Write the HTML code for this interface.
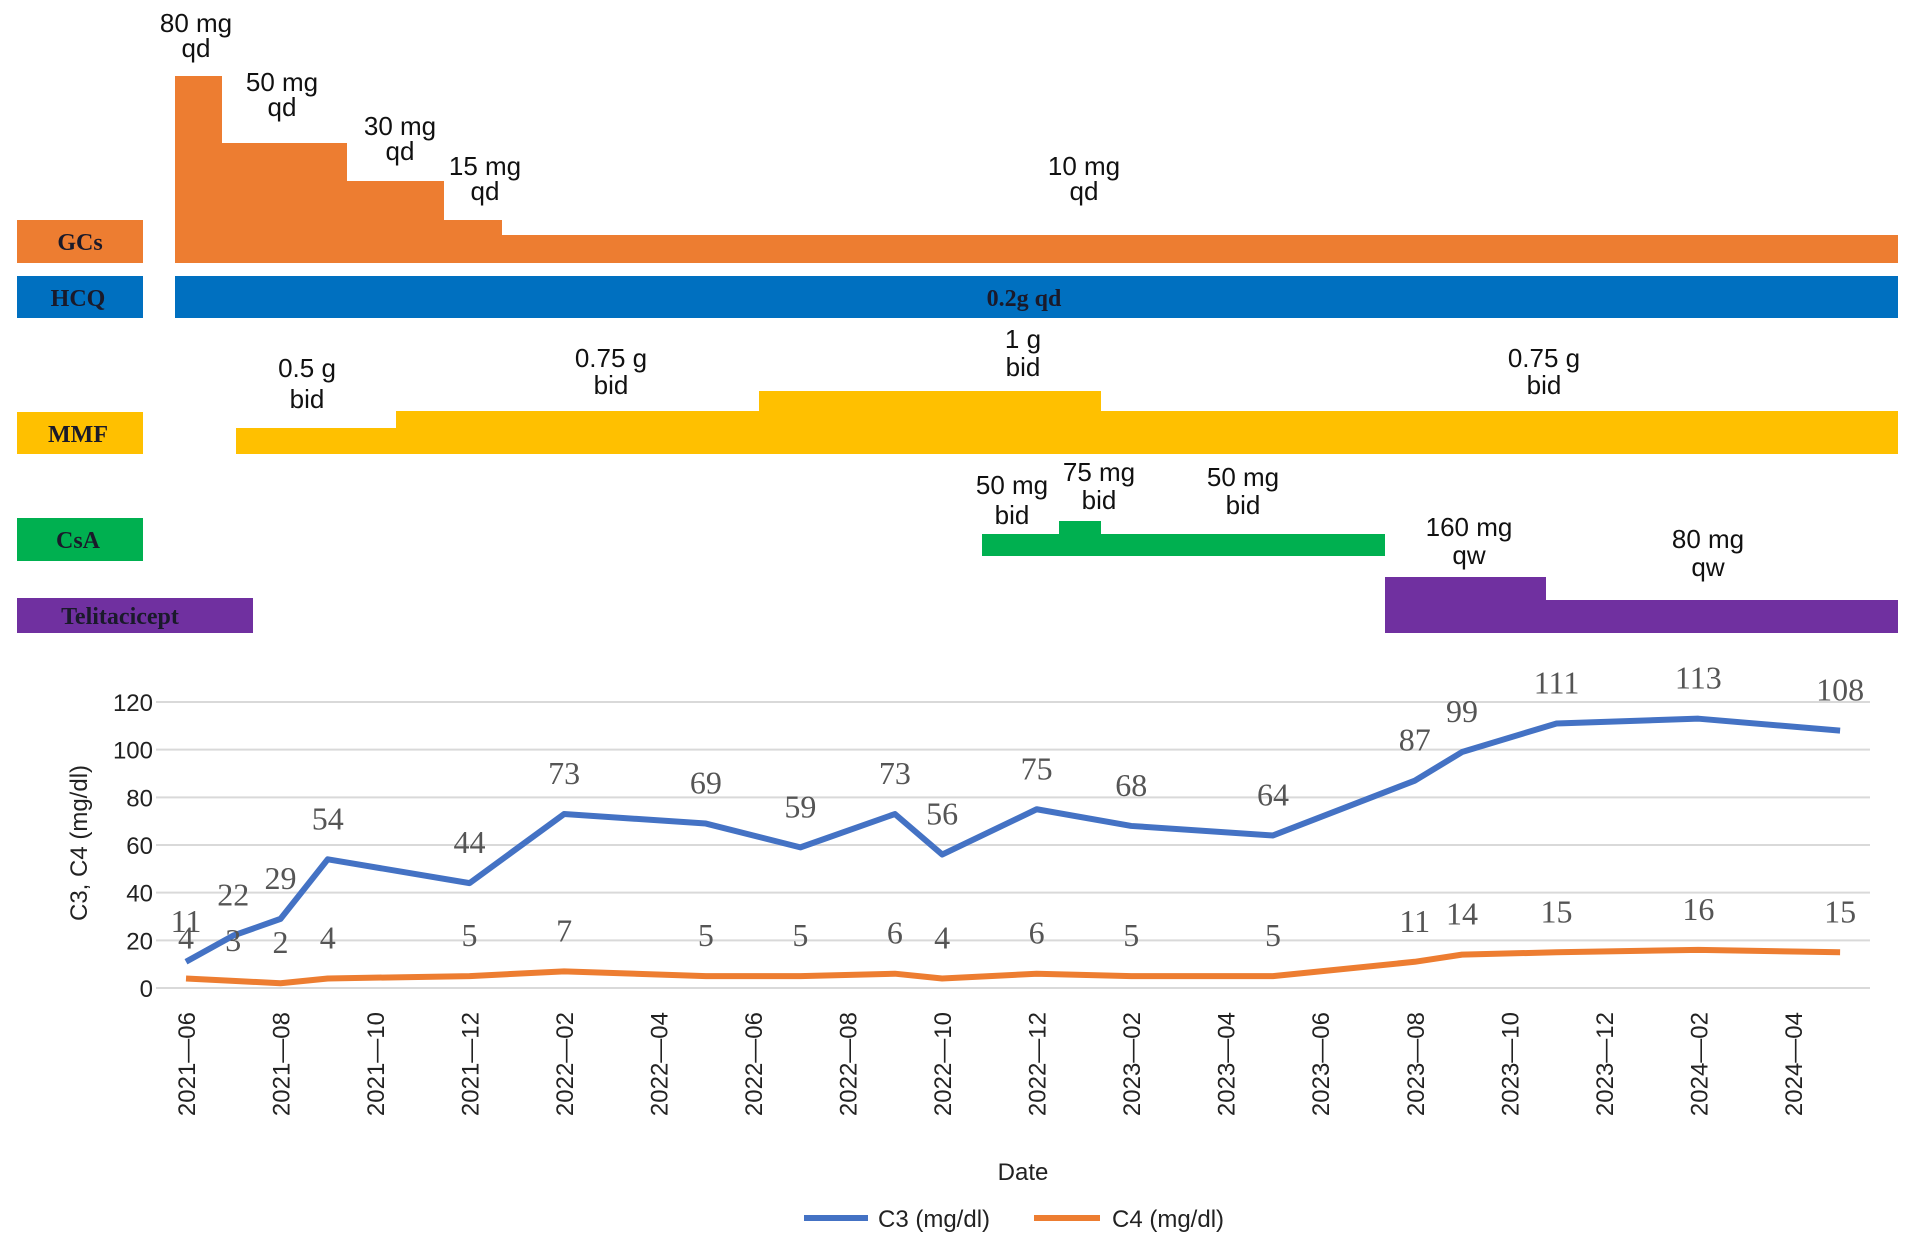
<!DOCTYPE html>
<html><head><meta charset="utf-8"><style>
html,body{margin:0;padding:0;background:#fff;}
svg{display:block;}
.dl{font-family:"Liberation Sans",sans-serif;font-size:26px;fill:#111;text-anchor:middle;}
.bx{font-family:"Liberation Serif",serif;font-size:24px;font-weight:bold;fill:#1a1a2a;text-anchor:middle;}
.tk{font-family:"Liberation Sans",sans-serif;font-size:24px;fill:#222;}
.vl{font-family:"Liberation Serif",serif;font-size:32px;fill:#555;text-anchor:middle;}
</style></head><body>
<svg id="chart" width="1913" height="1244" viewBox="0 0 1913 1244" xmlns="http://www.w3.org/2000/svg">
<g>
<rect x="17" y="220" width="126" height="43" fill="#ED7D31"/>
<text class="bx" x="80" y="250">GCs</text>
<rect x="17" y="276" width="126" height="42" fill="#0070C0"/>
<text class="bx" x="78" y="306">HCQ</text>
<rect x="17" y="412" width="126" height="42" fill="#FFC000"/>
<text class="bx" x="78" y="442">MMF</text>
<rect x="17" y="518" width="126" height="43" fill="#00B050"/>
<text class="bx" x="78" y="548">CsA</text>
<rect x="17" y="598" width="236" height="35" fill="#7030A0"/>
<text class="bx" x="120" y="624">Telitacicept</text>
</g>
<g>
<rect x="175" y="76" width="47" height="187" fill="#ED7D31"/>
<rect x="222" y="143" width="125" height="120" fill="#ED7D31"/>
<rect x="347" y="181" width="97" height="82" fill="#ED7D31"/>
<rect x="444" y="220" width="58" height="43" fill="#ED7D31"/>
<rect x="502" y="235" width="1396" height="28" fill="#ED7D31"/>
<text class="dl" x="196" y="32">80 mg</text><text class="dl" x="196" y="57">qd</text>
<text class="dl" x="282" y="91">50 mg</text><text class="dl" x="282" y="116">qd</text>
<text class="dl" x="400" y="135">30 mg</text><text class="dl" x="400" y="160">qd</text>
<text class="dl" x="485" y="175">15 mg</text><text class="dl" x="485" y="200">qd</text>
<text class="dl" x="1084" y="175">10 mg</text><text class="dl" x="1084" y="200">qd</text>
</g>
<g>
<rect x="175" y="276" width="1723" height="42" fill="#0070C0"/>
<text class="bx" x="1024" y="306">0.2g qd</text>
</g>
<g>
<rect x="236" y="428" width="160" height="26" fill="#FFC000"/>
<rect x="396" y="411" width="363" height="43" fill="#FFC000"/>
<rect x="759" y="391" width="342" height="63" fill="#FFC000"/>
<rect x="1101" y="411" width="797" height="43" fill="#FFC000"/>
<text class="dl" x="307" y="377">0.5 g</text><text class="dl" x="307" y="408">bid</text>
<text class="dl" x="611" y="367">0.75 g</text><text class="dl" x="611" y="394">bid</text>
<text class="dl" x="1023" y="348">1 g</text><text class="dl" x="1023" y="376">bid</text>
<text class="dl" x="1544" y="367">0.75 g</text><text class="dl" x="1544" y="394">bid</text>
</g>
<g>
<rect x="982" y="534" width="77" height="22" fill="#00B050"/>
<rect x="1059" y="521" width="42" height="35" fill="#00B050"/>
<rect x="1101" y="534" width="284" height="22" fill="#00B050"/>
<text class="dl" x="1012" y="494">50 mg</text><text class="dl" x="1012" y="524">bid</text>
<text class="dl" x="1099" y="481">75 mg</text><text class="dl" x="1099" y="509">bid</text>
<text class="dl" x="1243" y="486">50 mg</text><text class="dl" x="1243" y="514">bid</text>
</g>
<g>
<rect x="1385" y="577" width="161" height="56" fill="#7030A0"/>
<rect x="1546" y="600" width="352" height="33" fill="#7030A0"/>
<text class="dl" x="1469" y="536">160 mg</text><text class="dl" x="1469" y="564">qw</text>
<text class="dl" x="1708" y="548">80 mg</text><text class="dl" x="1708" y="576">qw</text>
</g>
<g id="plot"></g>
<text class="tk" x="1023" y="1180" text-anchor="middle">Date</text>
<text class="tk" transform="translate(87,843) rotate(-90)" text-anchor="middle">C3, C4 (mg/dl)</text>
<g>
<line x1="804" y1="1218" x2="868" y2="1218" stroke="#4472C4" stroke-width="6"/>
<text class="tk" x="878" y="1227">C3 (mg/dl)</text>
<line x1="1034" y1="1218" x2="1100" y2="1218" stroke="#ED7D31" stroke-width="6"/>
<text class="tk" x="1112" y="1227">C4 (mg/dl)</text>
</g>
</svg>
<script>
const dates = ["2021-06","2021-07","2021-08","2021-09","2021-12","2022-02","2022-05","2022-07","2022-09","2022-10","2022-12","2023-02","2023-05","2023-08","2023-09","2023-11","2024-02","2024-05"];
const c3Values = [11,22,29,54,44,73,69,59,73,56,75,68,64,87,99,111,113,108];
const c4Values = [4,3,2,4,5,7,5,5,6,4,6,5,5,11,14,15,16,15];
const yTicks = [0,20,40,60,80,100,120];
const xTickLabels = ["2021-06","2021-08","2021-10","2021-12","2022-02","2022-04","2022-06","2022-08","2022-10","2022-12","2023-02","2023-04","2023-06","2023-08","2023-10","2023-12","2024-02","2024-04"];

const NS = "http://www.w3.org/2000/svg";
const plot = document.getElementById("plot");
function mIdx(s){const p=s.split("-");return (+p[0]-2021)*12+(+p[1]-6);}
function xS(s){return 186 + mIdx(s)*47.26;}
function yS(v){return 988 - v*(286/120);}
function mk(tag, attrs){const e=document.createElementNS(NS,tag);for(const k in attrs)e.setAttribute(k,attrs[k]);return e;}

yTicks.forEach(function(t){
  const g = mk("line",{x1:156,x2:1870,y1:yS(t),y2:yS(t),stroke:"#d9d9d9","stroke-width":2});
  
  
  plot.appendChild(g);
  const l = mk("text",{x:153,y:yS(t)+9,"text-anchor":"end",class:"tk"});
  
  
  l.textContent = t;
  plot.appendChild(l);
});
xTickLabels.forEach(function(t){
  const x = xS(t);
  const l = mk("text",{transform:"translate("+(x+9)+",1012) rotate(-90)","text-anchor":"end",class:"tk"});
  
  
  l.textContent = t.replace("-","\u2014");
  plot.appendChild(l);
});
function series(vals, color, name){
  const pts = dates.map(function(d,i){return xS(d)+","+yS(vals[i]);}).join(" ");
  const pl = mk("polyline",{points:pts,fill:"none",stroke:color,"stroke-width":6,"stroke-linejoin":"round"});
  
  
  plot.appendChild(pl);
  dates.forEach(function(d,i){
    const t = mk("text",{x:xS(d),y:yS(vals[i])-30,class:"vl"});
    
    
    t.textContent = vals[i];
    plot.appendChild(t);
  });
}
series(c3Values,"#4472C4","c3");
series(c4Values,"#ED7D31","c4");
</script>
</body></html>
